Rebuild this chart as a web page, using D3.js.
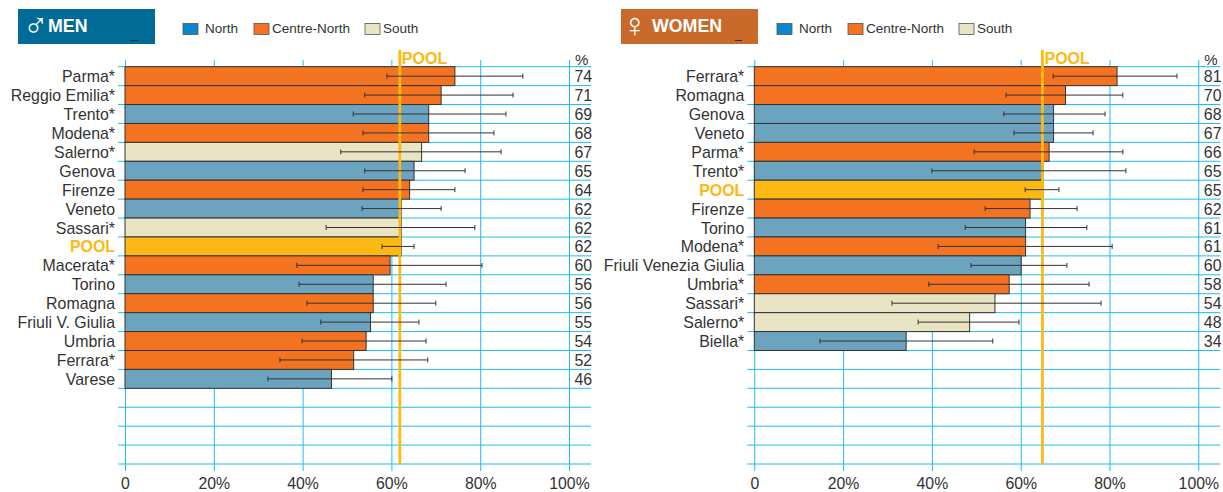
<!DOCTYPE html>
<html>
<head>
<meta charset="utf-8">
<script src="https://cdnjs.cloudflare.com/ajax/libs/d3/7.8.5/d3.min.js"></script>
<style>
body { margin: 0; background: #fff; }
svg { display: block; }
text { font-family: "Liberation Sans", sans-serif; fill: #333; }
</style>
</head>
<body>
<script>
// men
const men_names = ["Parma*", "Reggio Emilia*", "Trento*", "Modena*", "Salerno*", "Genova", "Firenze", "Veneto", "Sassari*", "POOL",
    "Macerata*", "Torino", "Romagna", "Friuli V. Giulia", "Umbria", "Ferrara*", "Varese"];
const men_area = ["C", "C", "N", "C", "S", "N", "C", "N", "S", "P", "C", "N", "C", "N", "C", "C", "N"];
const men_values = [74.3, 71.2, 68.4, 68.4, 66.8, 65.1, 64.1, 62.2, 62.2, 62.2, 59.7, 55.9, 55.9, 55.3, 54.3, 51.5, 46.5];
const men_low = [59, 54, 51.4, 53.6, 48.6, 54, 53.6, 53.4, 45.3, 57.9, 38.7, 39.2, 41, 44.1, 39.9, 34.9, 32.2];
const men_high = [89.6, 87.4, 85.8, 83.1, 84.7, 76.6, 74.3, 71.2, 78.8, 65.1, 80.4, 72.3, 70, 66.2, 67.8, 68.2, 60.1];
const men_labels = [74, 71, 69, 68, 67, 65, 64, 62, 62, 62, 60, 56, 56, 55, 54, 52, 46];
const men_pool = 61.9;

// women
const women_names = ["Ferrara*", "Romagna", "Genova", "Veneto", "Parma*", "Trento*", "POOL", "Firenze", "Torino", "Modena*",
    "Friuli Venezia Giulia", "Umbria*", "Sassari*", "Salerno*", "Biella*"];
const women_area = ["C", "C", "N", "N", "C", "N", "P", "C", "N", "C", "N", "C", "S", "S", "N"];
const women_values = [81.7, 70.1, 67.4, 67.4, 66.4, 65, 65, 62.1, 61.1, 61.1, 60.1, 57.4, 54.2, 48.5, 34.2];
const women_low = [67.3, 56.7, 56.2, 58.5, 49.5, 40, 61, 52, 47.5, 41.4, 48.8, 39.3, 31, 36.9, 14.8];
const women_high = [95.2, 83, 79, 76.3, 83, 83.7, 68.6, 72.7, 74.9, 80.6, 70.4, 75.4, 78.1, 59.6, 53.7];
const women_labels = [81, 70, 68, 67, 66, 65, 65, 62, 61, 61, 60, 58, 54, 48, 34];
const women_pool = 64.9;

const legend_names = ["North", "Centre-North", "South"];
const x_ticks = [0, 20, 40, 60, 80, 100];
const n_rows = 21;

const colors = { N: "#6ca3bf", C: "#f47321", S: "#e9e4c3", P: "#fdb913" };
const legend_colors = ["#0a87cd", "#f47321", "#e9e4c3"];
const grid_color = "#1fbcf2";
const pool_color = "#fdb913";

const svg = d3.select("body").append("svg")
    .attr("width", 1223)
    .attr("height", 492);

const yscale = d3.scaleBand()
    .domain(d3.range(n_rows))
    .range([66.7, 464]);

function drawPanel(p) {
    const xscale = d3.scaleLinear().domain([0, 100]).range([p.x0, p.x0 + 444]);
    const g = svg.append("g");

    // header box
    g.append("rect")
        .attr("x", p.boxX).attr("y", 9).attr("width", 137).attr("height", 35)
        .attr("fill", p.boxColor);
    g.append("text")
        .attr("x", p.boxX + p.symDx).attr("y", 37)
        .style("font-size", p.symSize + "px")
        .style("fill", "#fff")
        .text(p.symbol);
    g.append("text")
        .attr("x", p.boxX + p.titleDx).attr("y", 32)
        .style("font-size", "17.8px")
        .style("font-weight", "bold")
        .style("fill", "#fff")
        .text(p.title);
    g.append("text")
        .attr("x", p.boxX + p.underDx).attr("y", 38)
        .style("font-size", "12px")
        .style("fill", "#222")
        .text("_");

    // legend
    legend_names.forEach((name, i) => {
        g.append("rect")
            .attr("x", p.legendX[i]).attr("y", 23.5).attr("width", 15).attr("height", 11)
            .attr("fill", legend_colors[i])
            .attr("stroke", "#555")
            .attr("stroke-width", 0.8);
        g.append("text")
            .attr("x", p.legendX[i] + p.legendDx[i]).attr("y", 32.5)
            .style("font-size", "13.5px")
            .text(name);
    });

    // grid
    const x_axis = d3.axisBottom(xscale)
        .tickValues(x_ticks)
        .tickSize(-411)
        .tickPadding(0)
        .tickFormat(d => d === 0 ? "0" : d + "%");
    const ax = g.append("g")
        .attr("transform", "translate(0,471)")
        .call(x_axis);
    ax.select(".domain").remove();
    ax.selectAll(".tick line").attr("stroke", grid_color).attr("stroke-width", 1);
    ax.selectAll(".tick text")
        .attr("y", 17.5)
        .attr("dy", 0)
        .style("font-size", "15.8px")
        .style("font-family", "'Liberation Sans'")
        .style("fill", "#333");

    g.selectAll(".hline")
        .data(d3.range(n_rows + 1))
        .join("line")
        .attr("class", "hline")
        .attr("x1", p.x0 - 7)
        .attr("x2", p.x0 + 466)
        .attr("y1", d => yscale(0) + d * yscale.bandwidth())
        .attr("y2", d => yscale(0) + d * yscale.bandwidth())
        .attr("stroke", grid_color)
        .attr("stroke-width", 1);

    // bars
    g.selectAll(".bar")
        .data(p.names)
        .join("rect")
        .attr("class", "bar")
        .attr("x", xscale(0))
        .attr("y", (d, i) => yscale(i))
        .attr("width", (d, i) => xscale(p.values[i]) - xscale(0))
        .attr("height", yscale.bandwidth())
        .attr("fill", (d, i) => colors[p.area[i]])
        .attr("stroke", "#333")
        .attr("stroke-width", 1);

    // pool line
    g.append("line")
        .attr("x1", xscale(p.pool)).attr("x2", xscale(p.pool))
        .attr("y1", 50).attr("y2", 464)
        .attr("stroke", pool_color)
        .attr("stroke-width", 2.8);
    g.append("text")
        .attr("x", xscale(p.pool) + 2).attr("y", 63.5)
        .style("font-size", "16px")
        .style("font-weight", "bold")
        .style("fill", pool_color)
        .text("POOL");

    // error bars
    const err = g.selectAll(".err")
        .data(p.names)
        .join("g")
        .attr("class", "err")
        .attr("transform", (d, i) => "translate(0," + (yscale(i) + yscale.bandwidth() / 2) + ")")
        .attr("stroke", "#333")
        .attr("stroke-width", 1);
    err.append("line")
        .attr("x1", (d, i) => xscale(p.low[i]))
        .attr("x2", (d, i) => xscale(p.high[i]));
    err.append("line")
        .attr("x1", (d, i) => xscale(p.low[i]))
        .attr("x2", (d, i) => xscale(p.low[i]))
        .attr("y1", -2.5).attr("y2", 2.5);
    err.append("line")
        .attr("x1", (d, i) => xscale(p.high[i]))
        .attr("x2", (d, i) => xscale(p.high[i]))
        .attr("y1", -2.5).attr("y2", 2.5);

    // row names
    g.selectAll(".name")
        .data(p.names)
        .join("text")
        .attr("class", "name")
        .attr("x", p.x0 - 10)
        .attr("y", (d, i) => yscale(i) + yscale.bandwidth() / 2 + 6)
        .attr("text-anchor", "end")
        .style("font-size", "15.9px")
        .style("font-weight", d => d === "POOL" ? "bold" : "normal")
        .style("fill", d => d === "POOL" ? pool_color : "#333")
        .text(d => d);

    // value labels
    g.append("text")
        .attr("x", p.x0 + 450).attr("y", 64.5)
        .style("font-size", "15px")
        .text("%");
    g.selectAll(".val")
        .data(p.labels)
        .join("text")
        .attr("class", "val")
        .attr("x", p.x0 + 449.5)
        .attr("y", (d, i) => yscale(i) + yscale.bandwidth() / 2 + 6)
        .style("font-size", "15.9px")
        .text(d => d);
}

drawPanel({
    x0: 125, boxX: 18, boxColor: "#006b96", symbol: "\u2642", symSize: 34, symDx: 5, title: "MEN", titleDx: 30, underDx: 113,
    legendX: [183, 254, 365], legendDx: [22, 18, 18], pool: men_pool,
    names: men_names, area: men_area, values: men_values, low: men_low, high: men_high, labels: men_labels
});
drawPanel({
    x0: 754.3, boxX: 621, boxColor: "#c96a2a", symbol: "\u2640", symSize: 34, symDx: 1, title: "WOMEN", titleDx: 31, underDx: 114,
    legendX: [777, 848, 959], legendDx: [22, 18, 18], pool: women_pool,
    names: women_names, area: women_area, values: women_values, low: women_low, high: women_high, labels: women_labels
});
</script>
</body>
</html>
